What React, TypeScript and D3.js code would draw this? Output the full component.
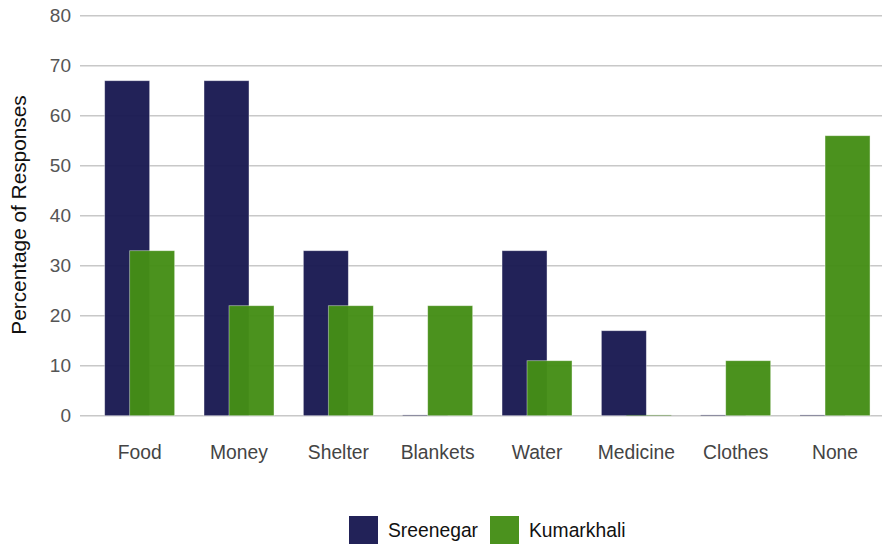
import React from "react";
import * as d3 from "d3";

const categories = ["Food", "Money", "Shelter", "Blankets", "Water", "Medicine", "Clothes", "None"];
const sreenegar = [67, 67, 33, 0, 33, 17, 0, 0];
const kumarkhali = [33, 22, 22, 22, 11, 0, 11, 56];
const yTicks = [0, 10, 20, 30, 40, 50, 60, 70, 80];
const seriesNames = ["Sreenegar", "Kumarkhali"];
const seriesColors = ["#1a1a52", "#448e16"];

export default function App() {
  const W = 882, H = 544;
  const x = d3.scaleBand<string>().domain(categories).range([90, 884.7]);
  const y = d3.scaleLinear().domain([0, 80]).range([415.7, 15.7]);
  const step = x.step();
  const barW = 45;
  const font = "'Liberation Sans', Arial, sans-serif";
  const series = [sreenegar, kumarkhali];
  const offsets = [-35, -10];
  return (
    <svg width={W} height={H} style={{ position: "absolute", left: 0, top: 0 }} fontFamily={font}>
      <rect width={W} height={H} fill="#fff" />
      {yTicks.map((t) => (
        <g key={t}>
          <line x1={80} x2={882} y1={y(t)} y2={y(t)} stroke="#c8c8c8" strokeWidth={1.5} />
          <text x={71} y={y(t)} dy="0.35em" textAnchor="end" fontSize={19} fill="#555">{t}</text>
        </g>
      ))}
      {series.map((vals, si) =>
        categories.map((c, i) => {
          const cx = (x(c) as number) + step / 2;
          const v = vals[i];
          const y0 = y(0), y1 = y(v);
          return (
            <rect
              key={si + c}
              x={cx + offsets[si]}
              y={Math.min(y1, y0 - 0.8)}
              width={barW}
              height={Math.max(y0 - y1, 0.8)}
              fill={seriesColors[si]}
              fillOpacity={0.965}
              stroke={v > 0 ? "#fff" : "none"}
              strokeOpacity={0.5}
              strokeWidth={0.8}
              opacity={v > 0 ? 1 : 0.5}
            />
          );
        })
      )}
      {categories.map((c) => (
        <text key={c} x={(x(c) as number) + step / 2} y={459} textAnchor="middle" fontSize={19.3} fill="#444">{c}</text>
      ))}
      <text transform="translate(26,215) rotate(-90)" textAnchor="middle" fontSize={20.8} fill="#111">Percentage of Responses</text>
      {seriesNames.map((n, i) => {
        const lx = [349, 490][i];
        return (
          <g key={n}>
            <rect x={lx} y={516} width={29} height={29} fill={seriesColors[i]} fillOpacity={0.965} />
            <text x={lx + 39} y={537} fontSize={19.3} fill="#111">{n}</text>
          </g>
        );
      })}
    </svg>
  );
}
